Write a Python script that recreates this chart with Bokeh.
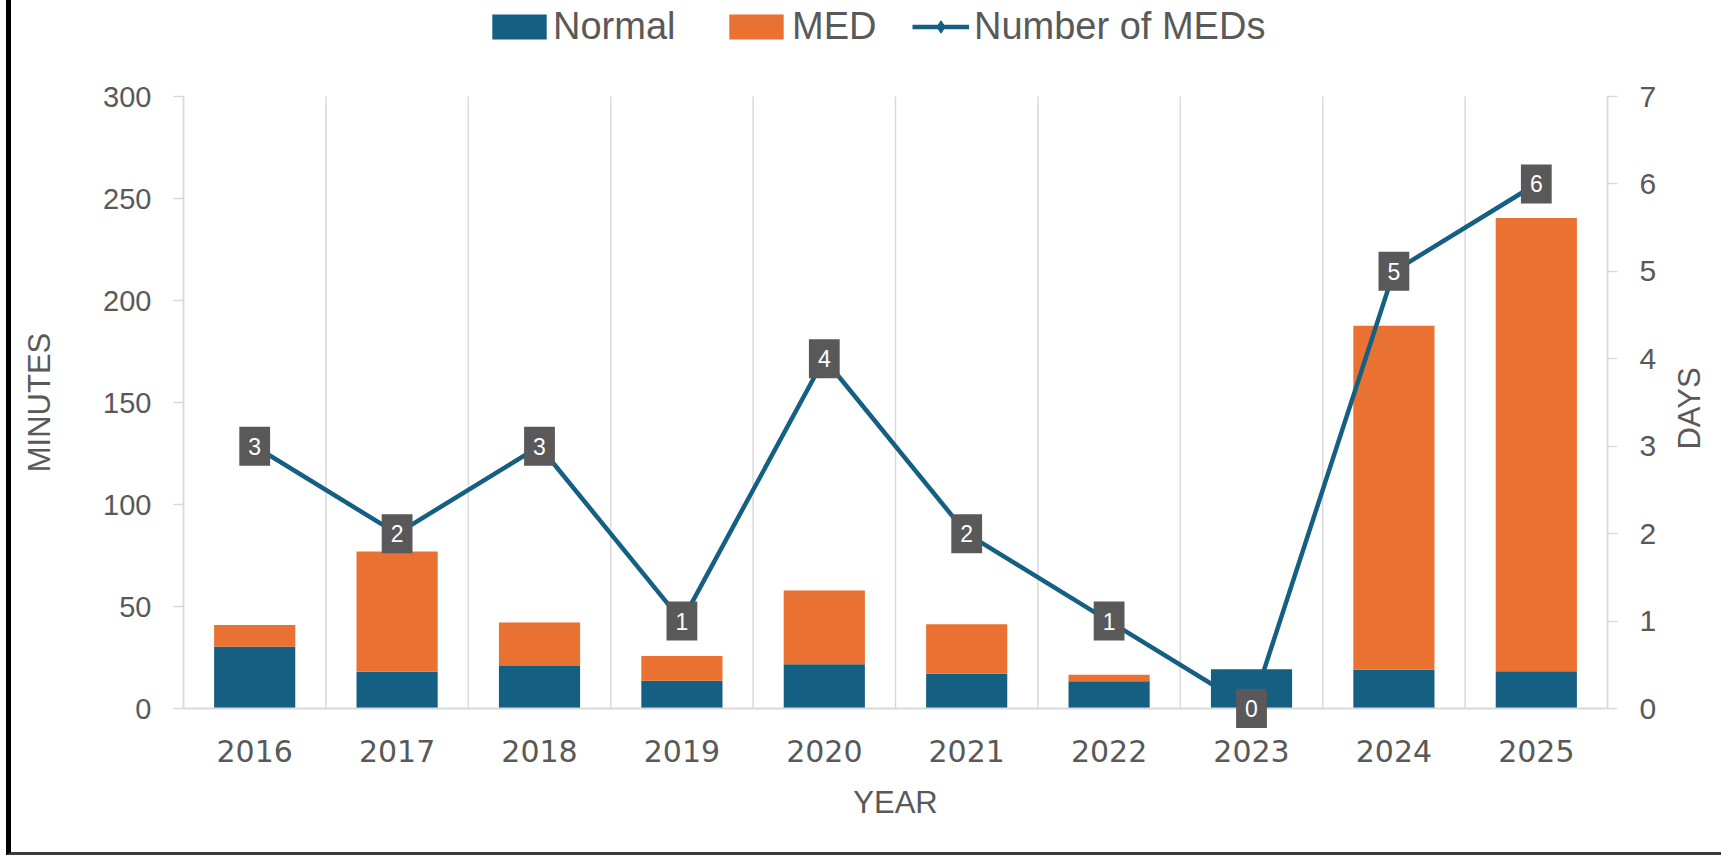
import math
from bokeh.plotting import figure
from bokeh.models import (Range1d, LinearAxis, FixedTicker, Legend, LegendItem,
                          Label, ColumnDataSource)
from bokeh.embed import file_html
from bokeh.resources import INLINE

# ---- data ----
years = ["2016", "2017", "2018", "2019", "2020", "2021", "2022", "2023", "2024", "2025"]
normal_minutes = [30.3, 18.0, 20.8, 13.6, 21.7, 17.0, 13.4, 19.2, 19.0, 18.3]
med_minutes = [10.6, 58.9, 21.4, 12.1, 36.1, 24.3, 3.1, 0.0, 168.6, 222.2]
med_days = [3, 2, 3, 1, 4, 2, 1, 0, 5, 6]
left_ticks = [0, 50, 100, 150, 200, 250, 300]
right_ticks = [0, 1, 2, 3, 4, 5, 6, 7]

BLUE = "#156082"
ORANGE = "#E97132"
GRID = "#d9d9d9"
TXT = "#595959"
FONT = "Liberation Sans"

# ---- layout (canvas pixels) ----
W, H = 1715, 855
AXIS_L, AXIS_R = 172, 1596           # left (minutes) and right (days) axis positions
PX_TOP_TICK, PX_ZERO, PX_FRAME_BOTTOM = 96, 708, 820
PX_MIN_TITLE_X, PX_MIN_TITLE_Y = 28, 402
PX_DAYS_TITLE_X, PX_DAYS_TITLE_Y = 1678, 408

n = len(years)
xs = list(range(n))
src = ColumnDataSource(dict(x=xs, normal=normal_minutes, med=med_minutes, days=med_days))

ppx = (AXIS_R - AXIS_L) / n
x_axis_l, x_axis_r = -0.5, n - 0.5
x_lo = x_axis_l - AXIS_L / ppx
x_hi = x_axis_l + (W - AXIS_L) / ppx

ymax_v = left_ticks[-1]
ppu = (PX_ZERO - PX_TOP_TICK) / ymax_v
y_lo = -(PX_FRAME_BOTTOM - PX_ZERO) / ppu
y_hi = ymax_v + PX_TOP_TICK / ppu
dmax_v = right_ticks[-1]
ppd = (PX_ZERO - PX_TOP_TICK) / dmax_v
d_lo = -(PX_FRAME_BOTTOM - PX_ZERO) / ppd
d_hi = dmax_v + PX_TOP_TICK / ppd

p = figure(width=W, height=H, output_backend="svg", toolbar_location=None,
           x_range=Range1d(x_lo, x_hi), y_range=Range1d(y_lo, y_hi),
           min_border_left=0, min_border_right=0,
           min_border_top=0, min_border_bottom=H - PX_FRAME_BOTTOM)
p.styles = {"margin-left": "6px", "border-left": "5px solid #000000",
            "border-bottom": "3px solid #3a3a3a"}
p.outline_line_color = None
p.background_fill_color = "white"
p.xgrid.visible = False
p.ygrid.visible = False

# vertical grid lines at category boundaries, from 0 to the top tick
bounds_x = [i - 0.5 for i in range(n + 1)]
p.segment(x0=bounds_x, y0=[left_ticks[0]] * len(bounds_x), x1=bounds_x,
          y1=[left_ticks[-1]] * len(bounds_x), line_color=GRID, line_width=1.5)

# x axis (drawn at y = 0)
xa = p.xaxis[0]
xa.fixed_location = 0
xa.bounds = (x_axis_l, x_axis_r)
xa.ticker = FixedTicker(ticks=xs)
xa.major_label_overrides = {i: y for i, y in enumerate(years)}
xa.axis_line_color = GRID
xa.axis_line_width = 2
xa.major_tick_line_color = None
xa.major_tick_out = 0
xa.major_tick_in = 0
xa.minor_tick_line_color = None
xa.major_label_text_font = "DejaVu Sans"
xa.major_label_text_font_size = "30px"
xa.major_label_text_color = TXT
xa.major_label_standoff = 31
xa.axis_label = "YEAR"
xa.axis_label_text_font = FONT
xa.axis_label_text_font_size = "31px"
xa.axis_label_text_font_style = "normal"
xa.axis_label_text_color = TXT
xa.axis_label_standoff = 20

# left axis (minutes), drawn at the left edge of the first category
ya = p.yaxis[0]
ya.fixed_location = x_axis_l
ya.bounds = (left_ticks[0], left_ticks[-1])
ya.ticker = FixedTicker(ticks=left_ticks)
ya.axis_line_color = GRID
ya.axis_line_width = 1.5
ya.major_tick_line_color = GRID
ya.major_tick_line_width = 1.5
ya.major_tick_out = 10
ya.major_tick_in = 0
ya.minor_tick_line_color = None
ya.major_label_text_font = FONT
ya.major_label_text_font_size = "29px"
ya.major_label_text_color = TXT
ya.major_label_standoff = 22

# right axis (days), drawn at the right edge of the last category
p.extra_y_ranges = {"days": Range1d(d_lo, d_hi)}
ra = LinearAxis(y_range_name="days", ticker=FixedTicker(ticks=right_ticks),
                bounds=(right_ticks[0], right_ticks[-1]), fixed_location=x_axis_r)
ra.axis_line_color = GRID
ra.axis_line_width = 1.5
ra.major_tick_line_color = GRID
ra.major_tick_line_width = 1.5
ra.major_tick_out = 10
ra.major_tick_in = 0
ra.minor_tick_line_color = None
ra.major_label_text_font = FONT
ra.major_label_text_font_size = "30px"
ra.major_label_text_color = TXT
ra.major_label_standoff = 22
p.add_layout(ra, "right")

# vertical axis titles (both read bottom-to-top)
p.add_layout(Label(x=x_axis_l + (PX_MIN_TITLE_X - AXIS_L) / ppx,
                   y=(PX_ZERO - PX_MIN_TITLE_Y) / ppu,
                   text="MINUTES", angle=math.pi / 2, text_align="center",
                   text_baseline="middle", text_font=FONT, text_font_size="31px",
                   text_color=TXT))
p.add_layout(Label(x=x_axis_l + (PX_DAYS_TITLE_X - AXIS_L) / ppx,
                   y=(PX_ZERO - PX_DAYS_TITLE_Y) / ppd, y_range_name="days",
                   text="DAYS", angle=math.pi / 2, text_align="center",
                   text_baseline="middle", text_font=FONT, text_font_size="31px",
                   text_color=TXT))

# bars
bars = p.vbar_stack(["normal", "med"], x="x", width=0.57, source=src,
                    color=[BLUE, ORANGE], line_color=None)

# line + markers
r_line = p.line("x", "days", source=src, y_range_name="days", line_color=BLUE, line_width=4.5)
r_mark = p.scatter("x", "days", source=src, y_range_name="days", marker="diamond",
                   size=16, fill_color=BLUE, line_color=BLUE)

# data labels
for x, d in zip(xs, med_days):
    kw = dict(x=x, y=d, y_range_name="days", text=str(d),
              text_align="center", text_baseline="middle",
              text_color="white", text_font=FONT, text_font_size="23px",
              background_fill_color="#595959")
    try:
        lab = Label(padding=(9, 11), **kw)
    except Exception:
        lab = Label(padding=10, **kw)
    p.add_layout(lab)

# legends (one per item, positioned individually)
LEG_VY = 680 + (PX_FRAME_BOTTOM - 728)

def make_legend(label, renderers, vx, gw, gh, standoff):
    lg = Legend(items=[LegendItem(label=label, renderers=renderers)],
                location=(AXIS_L + vx, LEG_VY), orientation="horizontal",
                glyph_width=gw, glyph_height=gh, label_standoff=standoff,
                label_text_font=FONT, label_text_font_size="38px",
                label_text_color=TXT, padding=0, margin=0, spacing=0,
                border_line_color=None, background_fill_alpha=0)
    p.add_layout(lg)

make_legend("Normal", [bars[0]], 302, 68, 31, 0)
make_legend("MED", [bars[1]], 539, 68, 31, 2)
make_legend("Number of MEDs", [r_line, r_mark], 729, 57, 31, 5)

open("out.html", "w").write(file_html(p, INLINE))
